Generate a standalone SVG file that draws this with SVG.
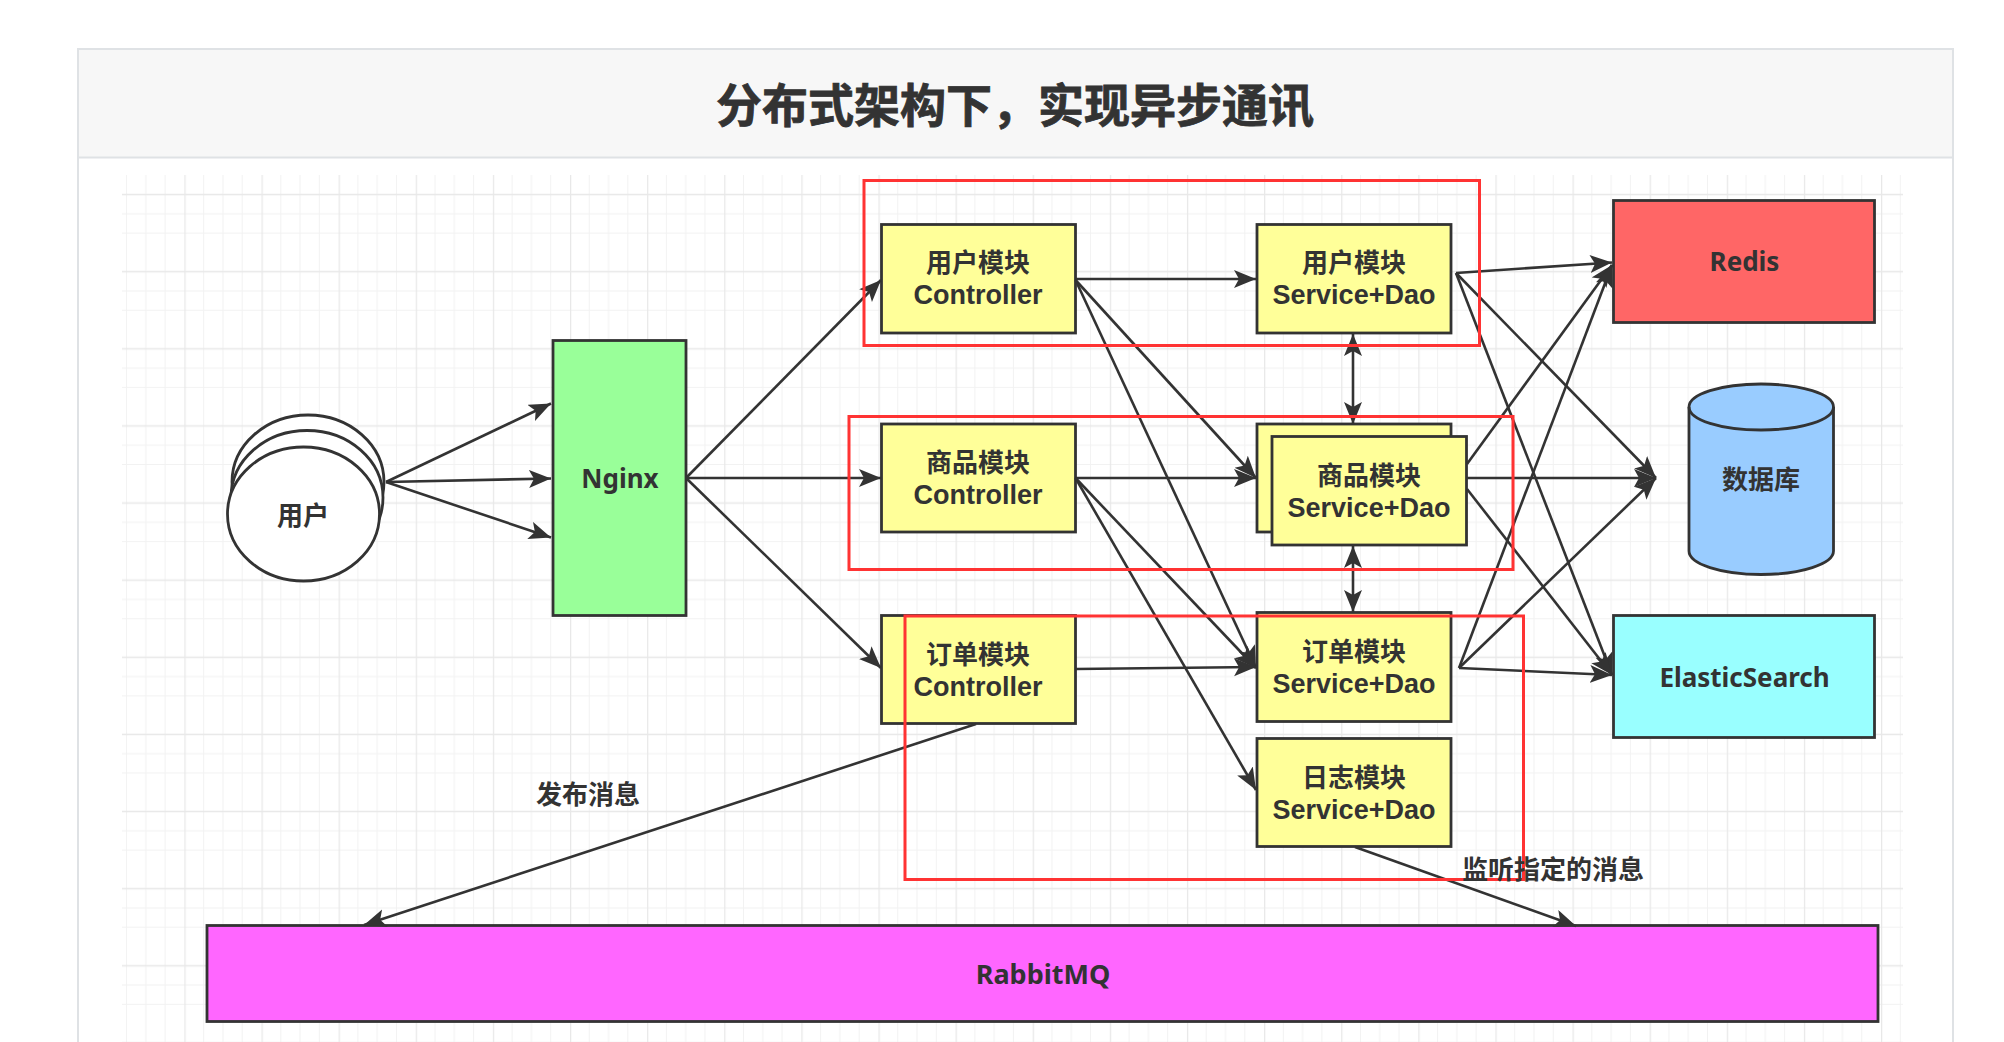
<svg xmlns="http://www.w3.org/2000/svg" width="2004" height="1042" viewBox="0 0 2004 1042">
<style>
text{font-family:"Noto Sans","Noto Sans CJK SC",sans-serif;font-weight:700;fill:#333;text-anchor:middle;dominant-baseline:central;font-size:26px}
text.m{font-family:"Liberation Sans","Noto Sans CJK SC",sans-serif}
.l{font-size:27px}
.n{stroke:#333;stroke-width:2.800}
.y{fill:#ffff99}
.c line{stroke:#333;stroke-width:2.600;marker-end:url(#a)}
.c line.b{marker-start:url(#s)}
.r{fill:none;stroke:#ff3333;stroke-width:3}
</style>
<defs>
<marker id="a" markerUnits="userSpaceOnUse" markerWidth="25" markerHeight="20" refX="22" refY="9" orient="auto"><path d="M0 0L22 9L0 18L5 9Z" fill="#333"/></marker>
<marker id="s" markerUnits="userSpaceOnUse" markerWidth="25" markerHeight="20" refX="0" refY="9" orient="auto"><path d="M22 0L0 9L22 18L17 9Z" fill="#333"/></marker>
<pattern id="g" patternUnits="userSpaceOnUse" x="107.26" y="175.3" width="77.12" height="77.12">
<path d="M19.28 0V77.12M38.56 0V77.12M57.84 0V77.12M0 19.28H77.12M0 38.56H77.12M0 57.84H77.12" stroke="#f2f2f2" fill="none"/>
<path d="M0.5 0V77.12M0 19.28H77.12" stroke="#e8e8e8" stroke-width="1.500" fill="none"/>
</pattern>
</defs>
<rect width="2004" height="1042" fill="#fff"/>
<g id="panel">
<rect x="78" y="49" width="1875" height="1010" fill="#fff" stroke="#dfe2e5" stroke-width="2"/>
<rect x="78" y="49" width="1875" height="108.500" fill="#f7f7f7" stroke="#dfe2e5" stroke-width="2"/>
<text x="1015" y="102" stroke="#333" stroke-width="0.800" style="font-size:46px;font-family:'Noto Sans CJK SC',sans-serif">分布式架构下，实现异步通讯</text>
</g>
<rect id="grid" x="122" y="175" width="1781" height="867" fill="url(#g)"/>
<g id="user">
<ellipse cx="308" cy="482" rx="76" ry="67" fill="#fff" class="n"/>
<ellipse cx="307" cy="497.500" rx="76" ry="67" fill="#fff" class="n"/>
<ellipse cx="303.500" cy="514" rx="76" ry="67" fill="#fff" class="n"/>
<text x="303" y="515">用户</text>
</g>
<g id="nginx"><rect x="553" y="340.500" width="133" height="275" fill="#99ff99" class="n"/><text x="620" y="478">Nginx</text></g>
<g id="user-controller"><rect x="881.500" y="224.500" width="194" height="108.500" class="n y"/><text class="m"><tspan x="978" y="263">用户模块</tspan><tspan x="978" y="295" class="l">Controller</tspan></text></g>
<g id="product-controller"><rect x="881.500" y="424" width="194" height="108" class="n y"/><text class="m"><tspan x="978" y="463">商品模块</tspan><tspan x="978" y="495" class="l">Controller</tspan></text></g>
<g id="order-controller"><rect x="881.500" y="615.500" width="194" height="108" class="n y"/><text class="m"><tspan x="978" y="655">订单模块</tspan><tspan x="978" y="687" class="l">Controller</tspan></text></g>
<g id="user-service"><rect x="1257" y="224.500" width="194" height="108.500" class="n y"/><text class="m"><tspan x="1354" y="263">用户模块</tspan><tspan x="1354" y="295" class="l">Service+Dao</tspan></text></g>
<g id="product-service-back"><rect x="1257" y="424" width="194" height="108" class="n y"/></g>
<g id="product-service"><rect x="1272" y="436.500" width="194.500" height="108.500" class="n y"/><text class="m"><tspan x="1369" y="476">商品模块</tspan><tspan x="1369" y="508" class="l">Service+Dao</tspan></text></g>
<g id="order-service"><rect x="1257" y="612.500" width="194" height="109" class="n y"/><text class="m"><tspan x="1354" y="652">订单模块</tspan><tspan x="1354" y="684" class="l">Service+Dao</tspan></text></g>
<g id="log-service"><rect x="1257" y="738.500" width="194" height="108" class="n y"/><text class="m"><tspan x="1354" y="778">日志模块</tspan><tspan x="1354" y="810" class="l">Service+Dao</tspan></text></g>
<g id="redis"><rect x="1613.500" y="200.500" width="261" height="122" fill="#ff6666" class="n"/><text x="1744.500" y="261">Redis</text></g>
<g id="database"><path d="M1689 407C1689 394 1721 384 1761 384S1833.500 394 1833.500 407V551C1833.500 564 1801 574.500 1761 574.500S1689 564 1689 551Z" fill="#99ccff" class="n"/><path d="M1689 407C1689 420 1721 430 1761 430S1833.500 420 1833.500 407" fill="none" class="n"/><text x="1761" y="479">数据库</text></g>
<g id="elasticsearch"><rect x="1613.500" y="615.500" width="261" height="122" fill="#99ffff" class="n"/><text x="1744.500" y="677">ElasticSearch</text></g>
<g id="rabbitmq"><rect x="207" y="925.500" width="1671" height="96" fill="#ff66ff" class="n"/><text x="1043" y="973" class="l">RabbitMQ</text></g>
<g id="connectors" class="c">
<line x1="386" y1="482" x2="551" y2="403.500"/>
<line x1="386" y1="482" x2="551" y2="478.500"/>
<line x1="386" y1="482" x2="551" y2="537.500"/>
<line x1="686" y1="478" x2="881" y2="280"/>
<line x1="686" y1="478" x2="881" y2="478"/>
<line x1="686" y1="478" x2="881" y2="668"/>
<line x1="1075.500" y1="279" x2="1256" y2="279"/>
<line x1="1075.500" y1="280" x2="1256" y2="478"/>
<line x1="1075.500" y1="280" x2="1256" y2="668"/>
<line x1="1075.500" y1="478" x2="1256" y2="478"/>
<line x1="1075.500" y1="478" x2="1256" y2="668"/>
<line x1="1075.500" y1="478" x2="1256" y2="790"/>
<line x1="1075.500" y1="669" x2="1256" y2="667"/>
<line x1="1456" y1="273" x2="1612" y2="262.500"/>
<line x1="1456" y1="273" x2="1656" y2="478"/>
<line x1="1456" y1="273" x2="1612" y2="675"/>
<line x1="1467" y1="464" x2="1612" y2="265"/>
<line x1="1467" y1="478" x2="1656" y2="478"/>
<line x1="1467" y1="489" x2="1612" y2="675"/>
<line x1="1459" y1="668" x2="1612" y2="265"/>
<line x1="1459" y1="668" x2="1656" y2="478"/>
<line x1="1459" y1="668" x2="1612" y2="675"/>
<line x1="976" y1="724" x2="364" y2="925"/>
<line x1="1355" y1="847" x2="1576" y2="926"/>
<line class="b" x1="1353" y1="334" x2="1353" y2="424"/>
<line class="b" x1="1353" y1="546" x2="1353" y2="612"/>
</g>
<g id="frames">
<rect x="864" y="180.500" width="615.500" height="165" class="r"/>
<rect x="849" y="416.500" width="664" height="153" class="r"/>
<rect x="905" y="616" width="618.500" height="263.500" class="r"/>
</g>
<text x="588" y="794">发布消息</text>
<text x="1553" y="869">监听指定的消息</text>
</svg>
